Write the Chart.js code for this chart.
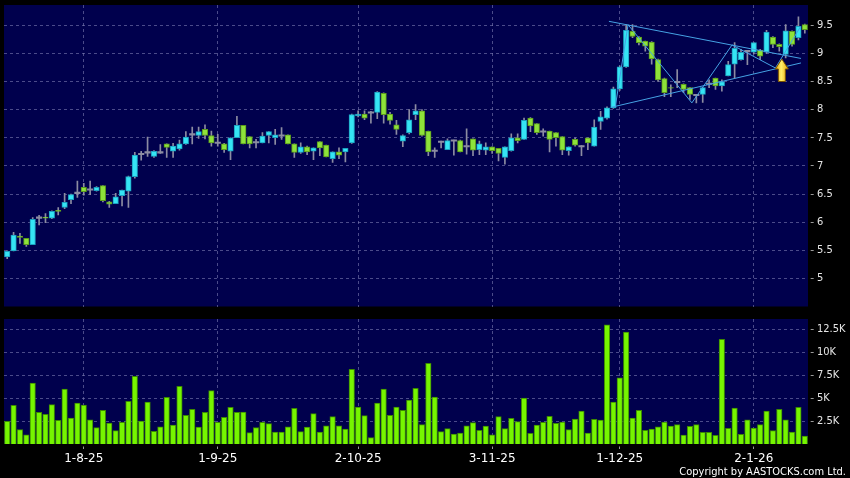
<!DOCTYPE html>
<html>
<head>
<meta charset="utf-8">
<script src="https://cdn.jsdelivr.net/npm/chart.js@4.4.1/dist/chart.umd.min.js"></script>
<style>
  html, body { margin: 0; padding: 0; background: #000; }
  #wrap { position: relative; width: 850px; height: 478px; overflow: hidden; background: #000; }
  #price { position: absolute; left: 0; top: 0; }
  #vol { position: absolute; left: 0; top: 312px; }
  #copy {
    position: absolute; right: 4px; top: 465px; line-height: 13px;
    color: #fff; font-size: 11px;
    font-family: "DejaVu Sans Condensed", "Liberation Sans Narrow", "DejaVu Sans", sans-serif;
  }
</style>
</head>
<body>
<div id="wrap">
  <canvas id="price" width="850" height="312"></canvas>
  <canvas id="vol" width="850" height="166"></canvas>
  <div id="copy">Copyright by AASTOCKS.com Ltd.</div>
</div>
<script>
// ========================
// DATA
// ========================
const monthDays = [
    ['7-25', [16,17,18,21,22,23,24,25,28,29,30,31]],
    ['8-25', [1,4,5,6,7,8,11,12,13,14,15,18,19,20,21,22,25,26,27,28,29]],
    ['9-25', [1,2,3,4,5,8,9,10,11,12,15,16,17,18,19,22,23,24,25,26,29,30]],
    ['10-25', [2,3,6,8,9,10,13,14,15,16,17,20,21,22,23,24,27,28,29,30,31]],
    ['11-25', [3,4,5,6,7,10,11,12,13,14,17,18,19,20,21,24,25,26,27,28]],
    ['12-25', [1,2,3,4,5,8,9,10,11,12,15,16,17,18,19,22,23,24,29,30,31]],
    ['1-26', [2,5,6,7,8,9,12,13,14]]
];
const dates = monthDays.flatMap(([my, days]) => days.map(d => d + '-' + my));

const tickLabels = ['1-8-25', '1-9-25', '2-10-25', '3-11-25', '1-12-25', '2-1-26'];
const priceTicks = [5, 5.5, 6, 6.5, 7, 7.5, 8, 8.5, 9, 9.5];
const volTicks = [2500, 5000, 7500, 10000, 12500];

const open = [5.38,5.49,5.75,5.71,5.60,6.08,6.09,6.07,6.21,6.26, 6.40,6.52,6.62,6.58,6.56,6.65,6.36,6.33,6.47,6.55,
    6.81,7.21,7.24,7.17,7.24,7.39,7.26,7.30,7.39,7.56, 7.54,7.65,7.54,7.41,7.39,7.26,7.50,7.72,7.52,7.42,
    7.41,7.54,7.50,7.54,7.55,7.39,7.24,7.34,7.26,7.43, 7.37,7.13,7.25,7.25,7.41,7.89,7.92,7.95,7.95,8.29,
    7.92,7.73,7.44,7.59,7.91,7.98,7.62,7.27,7.43,7.29, 7.45,7.45,7.35,7.48,7.29,7.28,7.34,7.31,7.15,7.27,
    7.50,7.47,7.85,7.75,7.61,7.62,7.59,7.52,7.27,7.47, 7.35,7.50,7.35,7.79,7.85,8.03,8.37,8.76,9.39,9.29,
    9.22,9.20,8.89,8.55,8.39,8.49,8.45,8.39,8.26,8.27, 8.46,8.56,8.42,8.60,8.81,8.89,9.04,9.02,9.06,9.02,
    9.29,9.16,8.98,9.39,9.28,9.51];
const high = [5.49,5.82,5.80,5.71,6.08,6.12,6.15,6.20,6.26,6.51, 6.50,6.73,6.69,6.73,6.63,6.65,6.37,6.51,6.57,6.82,
    7.24,7.26,7.51,7.27,7.38,7.39,7.40,7.46,7.61,7.69, 7.69,7.73,7.62,7.56,7.40,7.50,7.88,7.72,7.52,7.47,
    7.59,7.61,7.65,7.68,7.55,7.39,7.41,7.35,7.32,7.43, 7.37,7.25,7.32,7.31,7.92,7.98,7.98,7.97,8.32,8.30,
    7.95,7.81,7.55,8.00,8.09,8.00,7.62,7.32,7.44,7.48, 7.46,7.46,7.66,7.48,7.44,7.41,7.34,7.31,7.34,7.57,
    7.57,7.85,7.86,7.75,7.66,7.62,7.59,7.52,7.34,7.50, 7.36,7.50,7.82,7.97,8.05,8.40,8.78,9.51,9.51,9.30,
    9.22,9.21,8.90,8.56,8.44,8.71,8.46,8.39,8.27,8.39, 8.53,8.56,8.53,8.86,9.19,9.07,9.04,9.19,9.07,9.41,
    9.30,9.17,9.51,9.40,9.65,9.52];
const low = [5.35,5.49,5.62,5.57,5.60,5.95,5.99,6.06,6.13,6.24, 6.33,6.44,6.48,6.49,6.55,6.36,6.26,6.33,6.29,6.26,
    6.78,7.10,7.17,7.15,7.22,7.15,7.15,7.28,7.38,7.39, 7.49,7.48,7.35,7.35,7.24,7.11,7.50,7.39,7.32,7.32,
    7.41,7.41,7.38,7.47,7.39,7.15,7.22,7.20,7.11,7.18, 7.16,7.06,7.13,7.07,7.40,7.87,7.82,7.76,7.84,7.76,
    7.74,7.56,7.34,7.57,7.82,7.53,7.18,7.15,7.32,7.29, 7.19,7.25,7.21,7.18,7.20,7.20,7.22,7.09,7.03,7.26,
    7.41,7.47,7.61,7.56,7.53,7.25,7.35,7.20,7.19,7.35, 7.18,7.29,7.35,7.65,7.83,8.02,8.34,8.75,9.28,9.15,
    9.04,8.81,8.50,8.23,8.23,8.39,8.30,8.18,8.12,8.13, 8.39,8.36,8.33,8.60,8.56,8.88,8.80,8.99,8.89,9.00,
    9.10,9.04,8.92,9.13,9.24,9.36];
const close = [5.48,5.77,5.73,5.60,6.05,6.08,6.07,6.19,6.19,6.35, 6.49,6.52,6.54,6.58,6.62,6.38,6.32,6.45,6.57,6.81,
    7.19,7.21,7.24,7.26,7.24,7.33,7.35,7.39,7.51,7.56, 7.61,7.54,7.41,7.41,7.29,7.50,7.72,7.39,7.39,7.42,
    7.53,7.61,7.55,7.54,7.39,7.24,7.34,7.25,7.32,7.32, 7.16,7.25,7.19,7.31,7.91,7.92,7.85,7.95,8.31,7.91,
    7.81,7.65,7.54,7.82,7.98,7.54,7.25,7.27,7.43,7.45, 7.45,7.25,7.35,7.28,7.39,7.34,7.27,7.22,7.34,7.50,
    7.45,7.81,7.71,7.59,7.61,7.47,7.50,7.28,7.34,7.37, 7.35,7.41,7.69,7.87,8.03,8.37,8.76,9.41,9.30,9.19,
    9.13,8.90,8.53,8.30,8.38,8.49,8.36,8.27,8.26,8.39, 8.46,8.42,8.50,8.80,9.09,9.02,9.04,9.19,8.95,9.38,
    9.16,9.12,9.40,9.16,9.48,9.42];
const volume = [2460,4200,1560,1010,6630,3440,3220,4280,2570,5980, 2830,4460,4240,2640,1780,3660,2280,1450,2360,4640,
    7360,2500,4570,1380,1880,5070,2070,6270,3120,3770, 1850,3440,5800,2360,2900,3990,3440,3480,1230,1780,
    2360,2210,1300,1300,1880,3880,1340,1850,3300,1300, 1990,2970,1990,1630,8120,4020,3080,690,4460,5980,
    3120,4020,3660,4780,6050,2100,8770,5110,1340,1670, 1090,1200,1990,2320,1490,1960,1010,2970,1670,2790,
    2430,5000,1160,2070,2360,3010,2250,2390,1560,2720, 3590,1200,2680,2610,12970,4570,7210,12170,2830,3660,
    1490,1630,1880,2390,1960,2100,980,1920,2100,1270, 1270,940,11380,1700,3910,1050,2640,1740,2100,3590,
    1450,3770,2640,1300,3990,870];

// drawn trend lines (bar index, price)
const upperLine = [[94.3, 9.57], [124.4, 8.91]];
const lowerLine = [[94.6, 8.04], [124.4, 8.83]];
const zigzag = [[95.3, 8.05], [97.3, 9.51], [107.3, 8.12], [113.6, 9.15], [120.4, 8.74], [124.3, 9.47]];
// yellow arrow: bar index, tip price, base price
const arrowMark = [121.4, 8.90, 8.50];

// ========================
// STYLE
// ========================
const NAVY = '#00004d';
const GRID = 'rgba(125,125,180,0.6)';
const UP = '#35e4f4', UP_EDGE = '#1b9fbf';
const DOWN = '#8ee23a', DOWN_EDGE = '#5a9a1c';
const DOJI = '#8c8ca2';
const WICK = '#8c8ca2';
const TREND = '#45a2e4';
const TICK_DASH = [0, 2.7, 3, 30];   // short dash a little away from the axis
const yFont = { family: '"DejaVu Sans Condensed", "Liberation Sans Narrow", "DejaVu Sans", sans-serif', size: 11, lineHeight: 0.9 };
const xFont = { family: '"DejaVu Sans", sans-serif', size: 12 };

const tickIdx = tickLabels.map(t => dates.indexOf(t));
const n = dates.length;

const panelBg = {
    id: 'panelBg',
    beforeDraw(chart) {
        const { ctx, chartArea: a } = chart;
        ctx.save();
        ctx.fillStyle = NAVY;
        ctx.fillRect(a.left, a.top, a.right - a.left, a.bottom - a.top);
        ctx.restore();
    }
};

const arrowPlugin = {
    id: 'arrowMark',
    afterDatasetsDraw(chart) {
        const { ctx, scales } = chart;
        const cx = scales.x.getPixelForValue(arrowMark[0]);
        const yt = scales.y.getPixelForValue(arrowMark[1]);
        const yb = scales.y.getPixelForValue(arrowMark[2]);
        const hw = 6.5, sw = 3.5, hh = 10;
        ctx.save();
        const g = ctx.createLinearGradient(cx - hw, 0, cx + hw, 0);
        g.addColorStop(0, '#e39a00');
        g.addColorStop(0.45, '#fff06a');
        g.addColorStop(1, '#e8a400');
        ctx.beginPath();
        ctx.moveTo(cx, yt);
        ctx.lineTo(cx + hw, yt + hh);
        ctx.lineTo(cx + sw, yt + hh);
        ctx.lineTo(cx + sw, yb);
        ctx.lineTo(cx - sw, yb);
        ctx.lineTo(cx - sw, yt + hh);
        ctx.lineTo(cx - hw, yt + hh);
        ctx.closePath();
        ctx.fillStyle = g;
        ctx.fill();
        ctx.strokeStyle = '#7a5200';
        ctx.lineWidth = 1;
        ctx.stroke();
        ctx.restore();
    }
};

const kind = i => close[i] > open[i] ? 1 : close[i] < open[i] ? -1 : 0;

const bodyData = dates.map((d, i) => ({
    x: i,
    y: kind(i) === 0 ? [close[i] - 0.012, close[i] + 0.012] : [open[i], close[i]]
}));
const wickData = dates.map((d, i) => ({ x: i, y: [low[i], high[i]] }));
const toXY = pts => pts.map(p => ({ x: p[0], y: p[1] }));

const trendSet = (pts) => ({
    type: 'line',
    data: toXY(pts),
    borderColor: TREND,
    borderWidth: 1,
    pointRadius: 0,
    fill: false,
    order: 0
});

const xBase = () => ({
    type: 'linear',
    min: -0.5,
    max: n - 0.5,
    offset: false,
    afterBuildTicks: s => { s.ticks = tickIdx.map(v => ({ value: v })); },
    grid: { color: GRID, offset: false },
    border: { display: false, dash: [3, 3] }
});

const yRight = (min, max, ticks, fmt) => ({
    position: 'right',
    min: min,
    max: max,
    afterBuildTicks: s => { s.ticks = ticks.map(v => ({ value: v })); },
    afterFit: s => { s.width = 42; },
    ticks: { color: '#e6e6e6', font: yFont, padding: 0, callback: fmt },
    grid: { color: GRID, tickColor: '#9a9a9a', tickLength: 9, tickWidth: 1, tickBorderDash: TICK_DASH },
    border: { display: false, dash: [3, 3] }
});

// ========================
// PRICE CHART
// ========================
const priceX = xBase();
priceX.ticks = { display: false };
priceX.grid.drawTicks = false;
priceX.afterFit = s => { s.height = 0; };

new Chart(document.getElementById('price'), {
    type: 'bar',
    data: {
        datasets: [
            trendSet(upperLine),
            trendSet(lowerLine),
            trendSet(zigzag),
            {
                data: bodyData,
                grouped: false,
                barThickness: 5.5,
                order: 1,
                borderSkipped: false,
                backgroundColor: c => { const k = kind(c.dataIndex); return k > 0 ? UP : k < 0 ? DOWN : DOJI; },
                borderColor: c => { const k = kind(c.dataIndex); return k > 0 ? UP_EDGE : DOWN_EDGE; },
                borderWidth: c => kind(c.dataIndex) === 0 ? 0 : 1
            },
            {
                data: wickData,
                grouped: false,
                barThickness: 1,
                order: 2,
                backgroundColor: WICK,
                borderWidth: 0
            }
        ]
    },
    options: {
        responsive: false,
        animation: false,
        layout: { padding: { left: 4, right: 0, top: 5, bottom: 5.5 } },
        plugins: { legend: { display: false }, tooltip: { enabled: false } },
        scales: {
            x: priceX,
            y: yRight(4.5, 9.86, priceTicks, v => String(v))
        }
    },
    plugins: [panelBg, arrowPlugin]
});

// ========================
// VOLUME CHART
// ========================
const volX = xBase();
volX.ticks = {
    color: '#ffffff', font: xFont, padding: 3, maxRotation: 0, autoSkip: false,
    callback: (v, i) => tickLabels[i]
};
volX.grid.tickColor = '#9a9a9a';
volX.grid.tickLength = 5;
volX.grid.tickBorderDash = [0, 2.5, 3, 30];
volX.afterFit = s => { s.height = 34; };

new Chart(document.getElementById('vol'), {
    type: 'bar',
    data: {
        datasets: [{
            data: volume.map((v, i) => ({ x: i, y: v })),
            barThickness: 5.5,
            backgroundColor: '#76f500',
            borderColor: '#3c8a00',
            borderWidth: 1
        }]
    },
    options: {
        responsive: false,
        animation: false,
        layout: { padding: { left: 4, right: 0, top: 7, bottom: 0 } },
        plugins: { legend: { display: false }, tooltip: { enabled: false } },
        scales: {
            x: volX,
            y: yRight(0, 13600, volTicks, v => (v / 1000) + 'K')
        }
    },
    plugins: [panelBg]
});
</script>
</body>
</html>
